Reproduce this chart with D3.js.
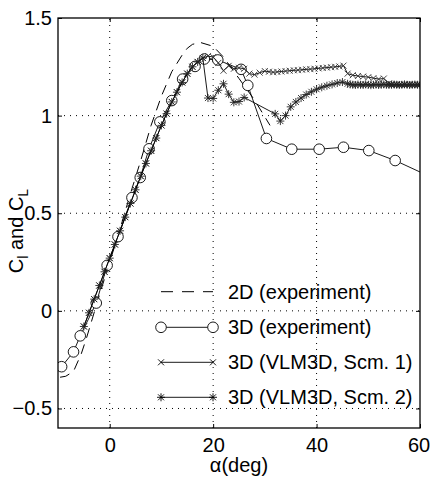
<!DOCTYPE html>
<html>
<head>
<meta charset="utf-8">
<script src="https://cdn.jsdelivr.net/npm/d3@7"></script>
<style>
  body { margin: 0; background: #fff; }
  text { font-family: "Liberation Sans", Arial, sans-serif; }
</style>
</head>
<body>
<script>
let w = 430;
let h = 482;
let margin = { top: 18, right: 10, bottom: 54, left: 58 };

// 2D (experiment)
let alpha2D = [-9.6, -8.5, -7, -5.5, -4.5, -2, 0, 2, 4, 6, 8, 10, 12, 14, 15, 16, 17.5, 20, 22, 25, 28, 31];
let cl2D = [-0.34, -0.335, -0.31, -0.22, -0.14, 0.08, 0.25, 0.42, 0.6, 0.77, 0.95, 1.1, 1.225, 1.31, 1.345, 1.365, 1.375, 1.355, 1.3, 1.19, 1.08, 0.95];

// 3D (experiment)
let alpha3D = [-9.3, -7, -5.7, -2.6, -0.5, 1.6, 4.3, 5.9, 7.6, 9.7, 12.0, 14.1, 16.5, 18.3, 20.9, 25.4, 26.7, 30.3, 35.2, 40.5, 45.2, 50.1, 55.2, 65];
let cl3D = [-0.286, -0.21, -0.128, 0.04, 0.233, 0.38, 0.58, 0.683, 0.83, 0.968, 1.077, 1.187, 1.252, 1.29, 1.285, 1.237, 1.155, 0.883, 0.828, 0.828, 0.838, 0.821, 0.77, 0.65];

// 3D (VLM3D, Scm. 1)
let alphaS1 = [-5, -4, -3, -2, -1, 0, 1, 2, 3, 4, 5, 6, 7, 8, 9, 10, 11, 12, 13, 14, 15, 16, 17, 18, 19, 20,
  21, 22, 23, 24, 25, 26, 27, 28, 29, 30,
  30.8, 31.6, 32.4, 33.2, 34, 34.8, 35.6, 36.4, 37.2, 38, 38.8, 39.6, 40.4, 41.2, 42, 42.8, 43.6, 44.4, 45.2,
  46, 47, 48, 49, 50, 51, 52, 53, 54, 54.5, 55, 55.5, 56, 56.5, 57, 57.5, 58, 58.5, 59, 59.5, 60];
let clS1 = [-0.08, -0.01, 0.06, 0.13, 0.2, 0.27, 0.34, 0.41, 0.48, 0.55, 0.62, 0.69, 0.755, 0.82, 0.885, 0.95, 1.01, 1.07, 1.12, 1.17, 1.215, 1.25, 1.275, 1.295, 1.305, 1.3,
  1.27, 1.23, 1.255, 1.24, 1.245, 1.24, 1.215, 1.21, 1.22, 1.228,
  1.225, 1.222, 1.224, 1.226, 1.228, 1.23, 1.232, 1.233, 1.235, 1.237, 1.238, 1.24, 1.242, 1.244, 1.246, 1.248, 1.25, 1.252, 1.256,
  1.215, 1.207, 1.203, 1.2, 1.197, 1.192, 1.187, 1.19, 1.165, 1.16, 1.158, 1.16, 1.158, 1.157, 1.159, 1.158, 1.16, 1.158, 1.157, 1.159, 1.158];

// 3D (VLM3D, Scm. 2)
let alphaS2 = [-5, -4, -3, -2, -1, 0, 1, 2, 3, 4, 5, 6, 7, 8, 9, 10, 11, 12, 13, 14, 15, 16, 17, 18, 19, 20,
  21, 22, 23, 24, 25, 26, 32, 33, 34, 35, 36, 37, 38, 39, 40, 41, 42, 43, 44, 45,
  46, 46.5, 47, 47.5, 48, 48.5, 49, 49.5, 50, 50.5, 51, 51.5, 52, 52.5, 53, 53.5, 54, 54.5, 55, 55.5, 56, 56.5, 57, 57.5, 58, 58.5, 59, 59.5, 60];
let clS2 = [-0.08, -0.01, 0.06, 0.13, 0.2, 0.27, 0.34, 0.41, 0.48, 0.55, 0.62, 0.69, 0.755, 0.82, 0.885, 0.95, 1.01, 1.07, 1.12, 1.17, 1.215, 1.25, 1.275, 1.295, 1.09, 1.088,
  1.13, 1.163, 1.11, 1.068, 1.072, 1.093, 1.009, 0.972, 1.0, 1.045, 1.07, 1.09, 1.108, 1.122, 1.135, 1.145, 1.153, 1.16, 1.167, 1.172,
  1.163, 1.16, 1.158, 1.157, 1.159, 1.158, 1.157, 1.16, 1.158, 1.156, 1.158, 1.159, 1.157, 1.158, 1.16, 1.158, 1.157, 1.158, 1.159, 1.158, 1.157, 1.158, 1.16, 1.158, 1.157, 1.158, 1.159, 1.158, 1.158];

let xTicks = [0, 20, 40, 60];
let yTicks = [-0.5, 0, 0.5, 1, 1.5];
let legendLabels = ['2D (experiment)', '3D (experiment)', '3D (VLM3D, Scm. 1)', '3D (VLM3D, Scm. 2)'];

let fontSize = '20px';

let xScale = d3.scaleLinear()
  .domain([-10, 60])
  .range([margin.left, w - margin.right]);

let yScale = d3.scaleLinear()
  .domain([-0.6, 1.5])
  .range([h - margin.bottom, margin.top]);

let svg = d3.select('body')
  .append('svg')
  .attr('width', w)
  .attr('height', h);

svg.append('defs')
  .append('clipPath')
  .attr('id', 'plot')
  .append('rect')
  .attr('x', margin.left)
  .attr('y', margin.top)
  .attr('width', w - margin.left - margin.right)
  .attr('height', h - margin.top - margin.bottom);

// dotted grid
let grid = svg.append('g')
  .attr('stroke', '#000')
  .attr('stroke-width', 1)
  .attr('stroke-dasharray', '1,5');

grid.selectAll('.gx')
  .data(xTicks.filter((d) => { return d < 60; }))
  .enter()
  .append('line')
  .attr('x1', (d) => { return xScale(d); })
  .attr('x2', (d) => { return xScale(d); })
  .attr('y1', yScale(-0.6))
  .attr('y2', yScale(1.5));

grid.selectAll('.gy')
  .data(yTicks.filter((d) => { return d < 1.5; }))
  .enter()
  .append('line')
  .attr('y1', (d) => { return yScale(d); })
  .attr('y2', (d) => { return yScale(d); })
  .attr('x1', xScale(-10))
  .attr('x2', xScale(60));

let crossPath = 'M-3,-3L3,3M-3,3L3,-3';
let starPath = 'M-4,0H4M0,-4V4M-3,-3L3,3M-3,3L3,-3';

let line = d3.line()
  .x((d) => { return xScale(d[0]); })
  .y((d) => { return yScale(d[1]); });

let plot = svg.append('g')
  .attr('clip-path', 'url(#plot)');

let data2D = d3.zip(alpha2D, cl2D);
let data3D = d3.zip(alpha3D, cl3D);
let dataS1 = d3.zip(alphaS1, clS1);
let dataS2 = d3.zip(alphaS2, clS2);

plot.append('path')
  .datum(data2D)
  .attr('d', line)
  .attr('fill', 'none')
  .attr('stroke', '#000')
  .attr('stroke-width', 1)
  .attr('stroke-dasharray', '10,7');

plot.append('path')
  .datum(data3D)
  .attr('d', line)
  .attr('fill', 'none')
  .attr('stroke', '#000')
  .attr('stroke-width', 0.9);

plot.selectAll('.circ')
  .data(data3D)
  .enter()
  .append('circle')
  .attr('cx', (d) => { return xScale(d[0]); })
  .attr('cy', (d) => { return yScale(d[1]); })
  .attr('r', 5.3)
  .attr('fill', '#fff')
  .attr('stroke', '#000')
  .attr('stroke-width', 0.9);

plot.append('path')
  .datum(dataS1)
  .attr('d', line)
  .attr('fill', 'none')
  .attr('stroke', '#000')
  .attr('stroke-width', 0.9);

plot.selectAll('.cross')
  .data(dataS1)
  .enter()
  .append('path')
  .attr('d', crossPath)
  .attr('transform', (d) => { return 'translate(' + xScale(d[0]) + ',' + yScale(d[1]) + ')'; })
  .attr('fill', 'none')
  .attr('stroke', '#333')
  .attr('stroke-width', 0.9);

plot.append('path')
  .datum(dataS2)
  .attr('d', line)
  .attr('fill', 'none')
  .attr('stroke', '#000')
  .attr('stroke-width', 0.9);

plot.selectAll('.star')
  .data(dataS2)
  .enter()
  .append('path')
  .attr('d', starPath)
  .attr('transform', (d) => { return 'translate(' + xScale(d[0]) + ',' + yScale(d[1]) + ')'; })
  .attr('fill', 'none')
  .attr('stroke', '#222')
  .attr('stroke-width', 0.9);

// axes box with inward ticks on all four sides
let tickLen = 4;
let axisStyle = (g) => {
  g.select('.domain').remove();
  g.selectAll('.tick line').attr('stroke', '#000').attr('stroke-width', 1);
  g.selectAll('.tick text').attr('font-size', fontSize).attr('fill', '#000')
    .attr('font-family', '"Liberation Sans", Arial, sans-serif');
};

svg.append('g')
  .attr('transform', 'translate(0,' + (h - margin.bottom) + ')')
  .call(d3.axisBottom(xScale).tickValues(xTicks).tickSizeInner(-tickLen).tickSizeOuter(0).tickPadding(10).tickFormat(d3.format('d')))
  .call(axisStyle)
  .call((g) => {
    // keep the last label inside the window
    g.selectAll('.tick text').filter((d) => { return d === 60; }).attr('dx', -1.5);
  });

svg.append('g')
  .attr('transform', 'translate(0,' + margin.top + ')')
  .call(d3.axisTop(xScale).tickValues(xTicks).tickSizeInner(-tickLen).tickSizeOuter(0).tickFormat(''))
  .call(axisStyle);

svg.append('g')
  .attr('transform', 'translate(' + margin.left + ',0)')
  .call(d3.axisLeft(yScale).tickValues(yTicks).tickSizeInner(-tickLen).tickSizeOuter(0).tickPadding(6)
    .tickFormat((d) => { return d < 0 ? '\u2212' + Math.abs(d) : String(d); }))
  .call(axisStyle);

svg.append('g')
  .attr('transform', 'translate(' + (w - margin.right) + ',0)')
  .call(d3.axisRight(yScale).tickValues(yTicks).tickSizeInner(-tickLen).tickSizeOuter(0).tickFormat(''))
  .call(axisStyle);

svg.append('rect')
  .attr('x', margin.left)
  .attr('y', margin.top)
  .attr('width', w - margin.left - margin.right)
  .attr('height', h - margin.top - margin.bottom)
  .attr('fill', 'none')
  .attr('stroke', '#000')
  .attr('stroke-width', 1.3);

// axis labels
svg.append('text')
  .attr('x', (margin.left + w - margin.right) / 2)
  .attr('y', 472)
  .attr('text-anchor', 'middle')
  .attr('font-size', fontSize)
  .text('\u03b1(deg)');

let yLabel = svg.append('text')
  .attr('transform', 'translate(23,231) rotate(-90)')
  .attr('text-anchor', 'middle')
  .attr('font-size', fontSize);
yLabel.append('tspan').text('C');
yLabel.append('tspan').attr('dy', 5).attr('font-size', '14px').text('l');
yLabel.append('tspan').attr('dy', -5).text(' and C');
yLabel.append('tspan').attr('dy', 5).attr('font-size', '14px').text('L');

// legend
let legX1 = 161;
let legX2 = 213;
let legY = [291.7, 327.3, 362.3, 397.3];
let legend = svg.append('g');

legend.selectAll('.lline')
  .data(legendLabels)
  .enter()
  .append('line')
  .attr('x1', legX1)
  .attr('x2', legX2)
  .attr('y1', (d, i) => { return legY[i]; })
  .attr('y2', (d, i) => { return legY[i]; })
  .attr('stroke', '#000')
  .attr('stroke-width', (d, i) => { return i === 0 ? 1 : 0.9; })
  .attr('stroke-dasharray', (d, i) => { return i === 0 ? '12,9' : null; });

[legX1, legX2].forEach((lx) => {
  legend.append('circle')
    .attr('cx', lx).attr('cy', legY[1]).attr('r', 5.3)
    .attr('fill', '#fff').attr('stroke', '#000').attr('stroke-width', 0.9);
  legend.append('path')
    .attr('d', crossPath)
    .attr('transform', 'translate(' + lx + ',' + legY[2] + ')')
    .attr('fill', 'none').attr('stroke', '#000').attr('stroke-width', 0.9);
  legend.append('path')
    .attr('d', starPath)
    .attr('transform', 'translate(' + lx + ',' + legY[3] + ')')
    .attr('fill', 'none').attr('stroke', '#000').attr('stroke-width', 0.9);
});

legend.selectAll('.ltext')
  .data(legendLabels)
  .enter()
  .append('text')
  .attr('x', 228)
  .attr('y', (d, i) => { return legY[i] + 7; })
  .attr('font-size', fontSize)
  .text((d) => { return d; });
</script>
</body>
</html>
